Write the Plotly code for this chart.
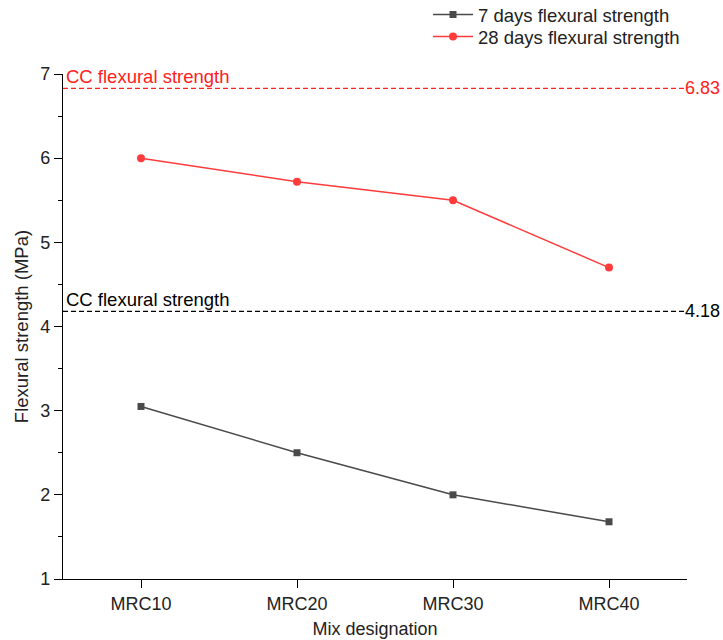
import plotly.graph_objects as go

categories = ["MRC10", "MRC20", "MRC30", "MRC40"]
strength_7d = [3.05, 2.50, 2.00, 1.68]
strength_28d = [6.00, 5.72, 5.50, 4.70]
cc_7d = 4.18
cc_28d = 6.83

GRAY = "#4a4a4a"
RED = "#ff3b3b"
FONT = "Liberation Sans, Arial, sans-serif"

fig = go.Figure()
fig.add_trace(go.Scatter(x=categories, y=strength_7d, mode="lines+markers",
                         name="7 days flexural strength", legend="legend",
                         line=dict(color=GRAY, width=1.5),
                         marker=dict(symbol="square", size=7, color=GRAY)))
fig.add_trace(go.Scatter(x=categories, y=strength_28d, mode="lines+markers",
                         name="28 days flexural strength", legend="legend2",
                         line=dict(color=RED, width=1.5),
                         marker=dict(symbol="circle", size=8, color=RED)))

for val, col in [(cc_28d, "#ff2020"), (cc_7d, "black")]:
    fig.add_shape(type="line", xref="paper", yref="y", x0=0, x1=0.997, y0=val, y1=val,
                  line=dict(color=col, width=1.2, dash="5px,3px"))
    fig.add_annotation(xref="paper", yref="y", x=0.997, y=val, text=f"{val:.2f}",
                       showarrow=False, xanchor="left", yanchor="middle", xshift=-2,
                       font=dict(color=col, size=18, family=FONT))
    fig.add_annotation(xref="paper", yref="y", x=0, y=val, text="CC flexural strength",
                       showarrow=False, xanchor="left", yanchor="bottom", xshift=1, yshift=-1,
                       font=dict(color=col, size=18.5, family=FONT))

leg_common = dict(xref="container", yref="container", xanchor="left", yanchor="middle",
                  bgcolor="rgba(0,0,0,0)", font=dict(size=18.5, family=FONT),
                  itemwidth=40, borderwidth=0)

fig.update_layout(
    width=723, height=640,
    margin=dict(l=63, r=36, t=74, b=61, autoexpand=False),
    paper_bgcolor="white", plot_bgcolor="white",
    font=dict(family=FONT, size=18, color="#222"),
    showlegend=True,
    legend=dict(x=0.592, y=1 - 15 / 640, **leg_common),
    legend2=dict(x=0.592, y=1 - 37 / 640, **leg_common),
    xaxis=dict(range=[-0.5, 3.5], showline=True, linecolor="black", linewidth=1.2,
               ticks="outside", ticklen=8, tickcolor="black", showgrid=False, zeroline=False,
               automargin=False,
               title=dict(text="Mix designation", font=dict(size=18), standoff=9),
               tickfont=dict(size=18)),
    yaxis=dict(range=[1, 7], showline=True, linecolor="black", linewidth=1.2,
               ticks="outside", ticklen=8, tickcolor="black", dtick=1, showgrid=False,
               zeroline=False, automargin=False,
               minor=dict(ticks="outside", ticklen=4, dtick=0.5, tickcolor="black", showgrid=False),
               title=dict(text="Flexural strength (MPa)", font=dict(size=18.5), standoff=6),
               tickfont=dict(size=18)),
)

fig.write_html("out.html")
